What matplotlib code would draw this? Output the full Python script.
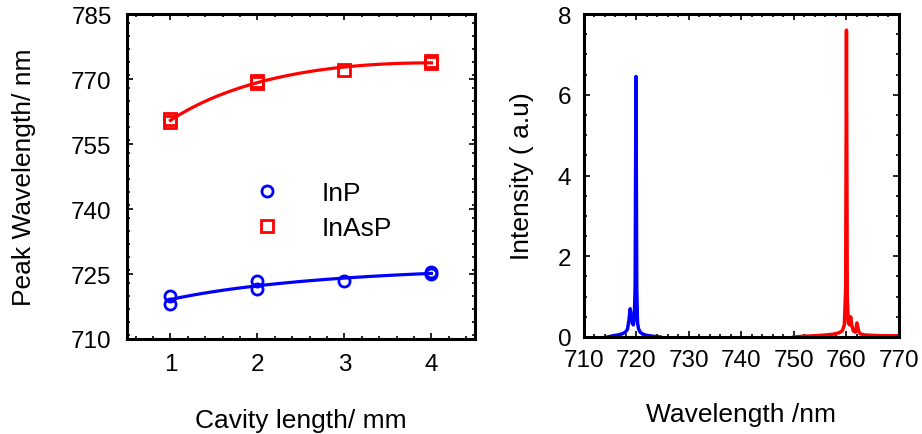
import numpy as np
import matplotlib
matplotlib.use('Agg')
import matplotlib.pyplot as plt
from matplotlib.ticker import MultipleLocator

plt.rcParams['font.family'] = ['Liberation Sans', 'DejaVu Sans']

# peak wavelength vs cavity length (two devices per length)
cavity_len = [1, 1, 2, 2, 3, 4, 4]
inp_peak = [720.0, 718.1, 723.4, 721.6, 723.5, 725.5, 725.0]
inasp_peak = [760.7, 760.1, 769.6, 769.2, 772.2, 774.1, 773.6]
peak_ticks = [710, 725, 740, 755, 770, 785]

# emission spectra
inp_wl = [714.5, 715.5, 716.5, 717.3, 717.9, 718.3, 718.6, 718.8, 719.0, 719.2,
          719.4, 719.6, 719.75, 719.9, 720.05, 720.2, 720.4, 720.7, 721.2, 722.0,
          723.0, 724.5]
inp_int = [0.0, 0.03, 0.05, 0.08, 0.12, 0.2, 0.45, 0.7, 0.55, 0.35,
           0.3, 0.5, 1.3, 6.45, 1.2, 0.35, 0.2, 0.12, 0.07, 0.04,
           0.02, 0.0]
inasp_wl = [750.0, 752.0, 754.0, 756.0, 757.5, 758.5, 759.2, 759.6, 759.85, 760.0,
            760.15, 760.35, 760.6, 760.8, 761.0, 761.3, 761.7, 762.0, 762.3, 762.6,
            763.5, 765.0, 767.0, 770.0]
inasp_int = [0.0, 0.02, 0.03, 0.05, 0.07, 0.1, 0.15, 0.3, 1.2, 7.6,
             1.0, 0.35, 0.3, 0.5, 0.3, 0.15, 0.12, 0.35, 0.15, 0.08,
             0.05, 0.04, 0.03, 0.03]

fig = plt.figure(figsize=(9.22, 4.35), dpi=100)
ax1 = fig.add_axes([0.1377, 0.2184, 0.3774, 0.747])
ax2 = fig.add_axes([0.6334, 0.223, 0.3416, 0.7425])

# saturating fit: quadratic in sqrt(L) through the measured points
xfit = np.linspace(1, 4, 100)
sx = np.sqrt(np.array(cavity_len, dtype=float))
for peaks, col in ((inp_peak, 'blue'), (inasp_peak, 'red')):
    coef = np.polyfit(sx, peaks, 2)
    ax1.plot(xfit, np.polyval(coef, np.sqrt(xfit)), color=col, lw=2.3, zorder=2)

ax1.plot(cavity_len, inp_peak, 'o', ms=8, mfc='none', mec='blue', mew=2, label='InP', zorder=3)
ax1.plot(cavity_len, inasp_peak, 's', ms=8, mfc='none', mec='red', mew=2, label='InAsP', zorder=3)

ax1.set_xlim(0.5, 4.5)
ax1.set_ylim(710, 785)
ax1.xaxis.set_major_locator(MultipleLocator(1))
ax1.xaxis.set_minor_locator(MultipleLocator(0.2))
ax1.set_yticks(peak_ticks)
ax1.yaxis.set_minor_locator(MultipleLocator(3))
ax1.set_xlabel('Cavity length/ mm', fontsize=19, labelpad=24)
ax1.set_ylabel('Peak Wavelength/ nm', fontsize=19, labelpad=25)
ax1.tick_params(axis='x', which='major', pad=10)
ax1.tick_params(axis='y', which='major', pad=11)
leg = ax1.legend(loc='center left', bbox_to_anchor=(0.297, 0.395), frameon=False, fontsize=19,
                 handletextpad=1.55, labelspacing=0.4, handlelength=1)

ax2.plot(inp_wl, inp_int, color='blue', lw=2.5)
ax2.plot(inasp_wl, inasp_int, color='red', lw=2.5)
ax2.set_xlim(710, 770)
ax2.set_ylim(0, 8)
ax2.xaxis.set_major_locator(MultipleLocator(10))
ax2.xaxis.set_minor_locator(MultipleLocator(2))
ax2.yaxis.set_major_locator(MultipleLocator(2))
ax2.yaxis.set_minor_locator(MultipleLocator(0.5))
ax2.set_xlabel('Wavelength /nm', fontsize=19, labelpad=22)
ax2.set_ylabel('Intensity ( a.u)', fontsize=19, labelpad=17)
ax2.tick_params(axis='x', which='major', pad=9)
ax2.tick_params(axis='y', which='major', pad=9)

for ax in (ax1, ax2):
    for sp in ax.spines.values():
        sp.set_linewidth(2.2)
    ax.tick_params(which='both', direction='in', top=True, right=True, labelsize=17.5,
                   width=1.2)
    ax.tick_params(which='major', length=4)
    ax.tick_params(which='minor', length=2.5)

fig.savefig('out.png', dpi=100)
